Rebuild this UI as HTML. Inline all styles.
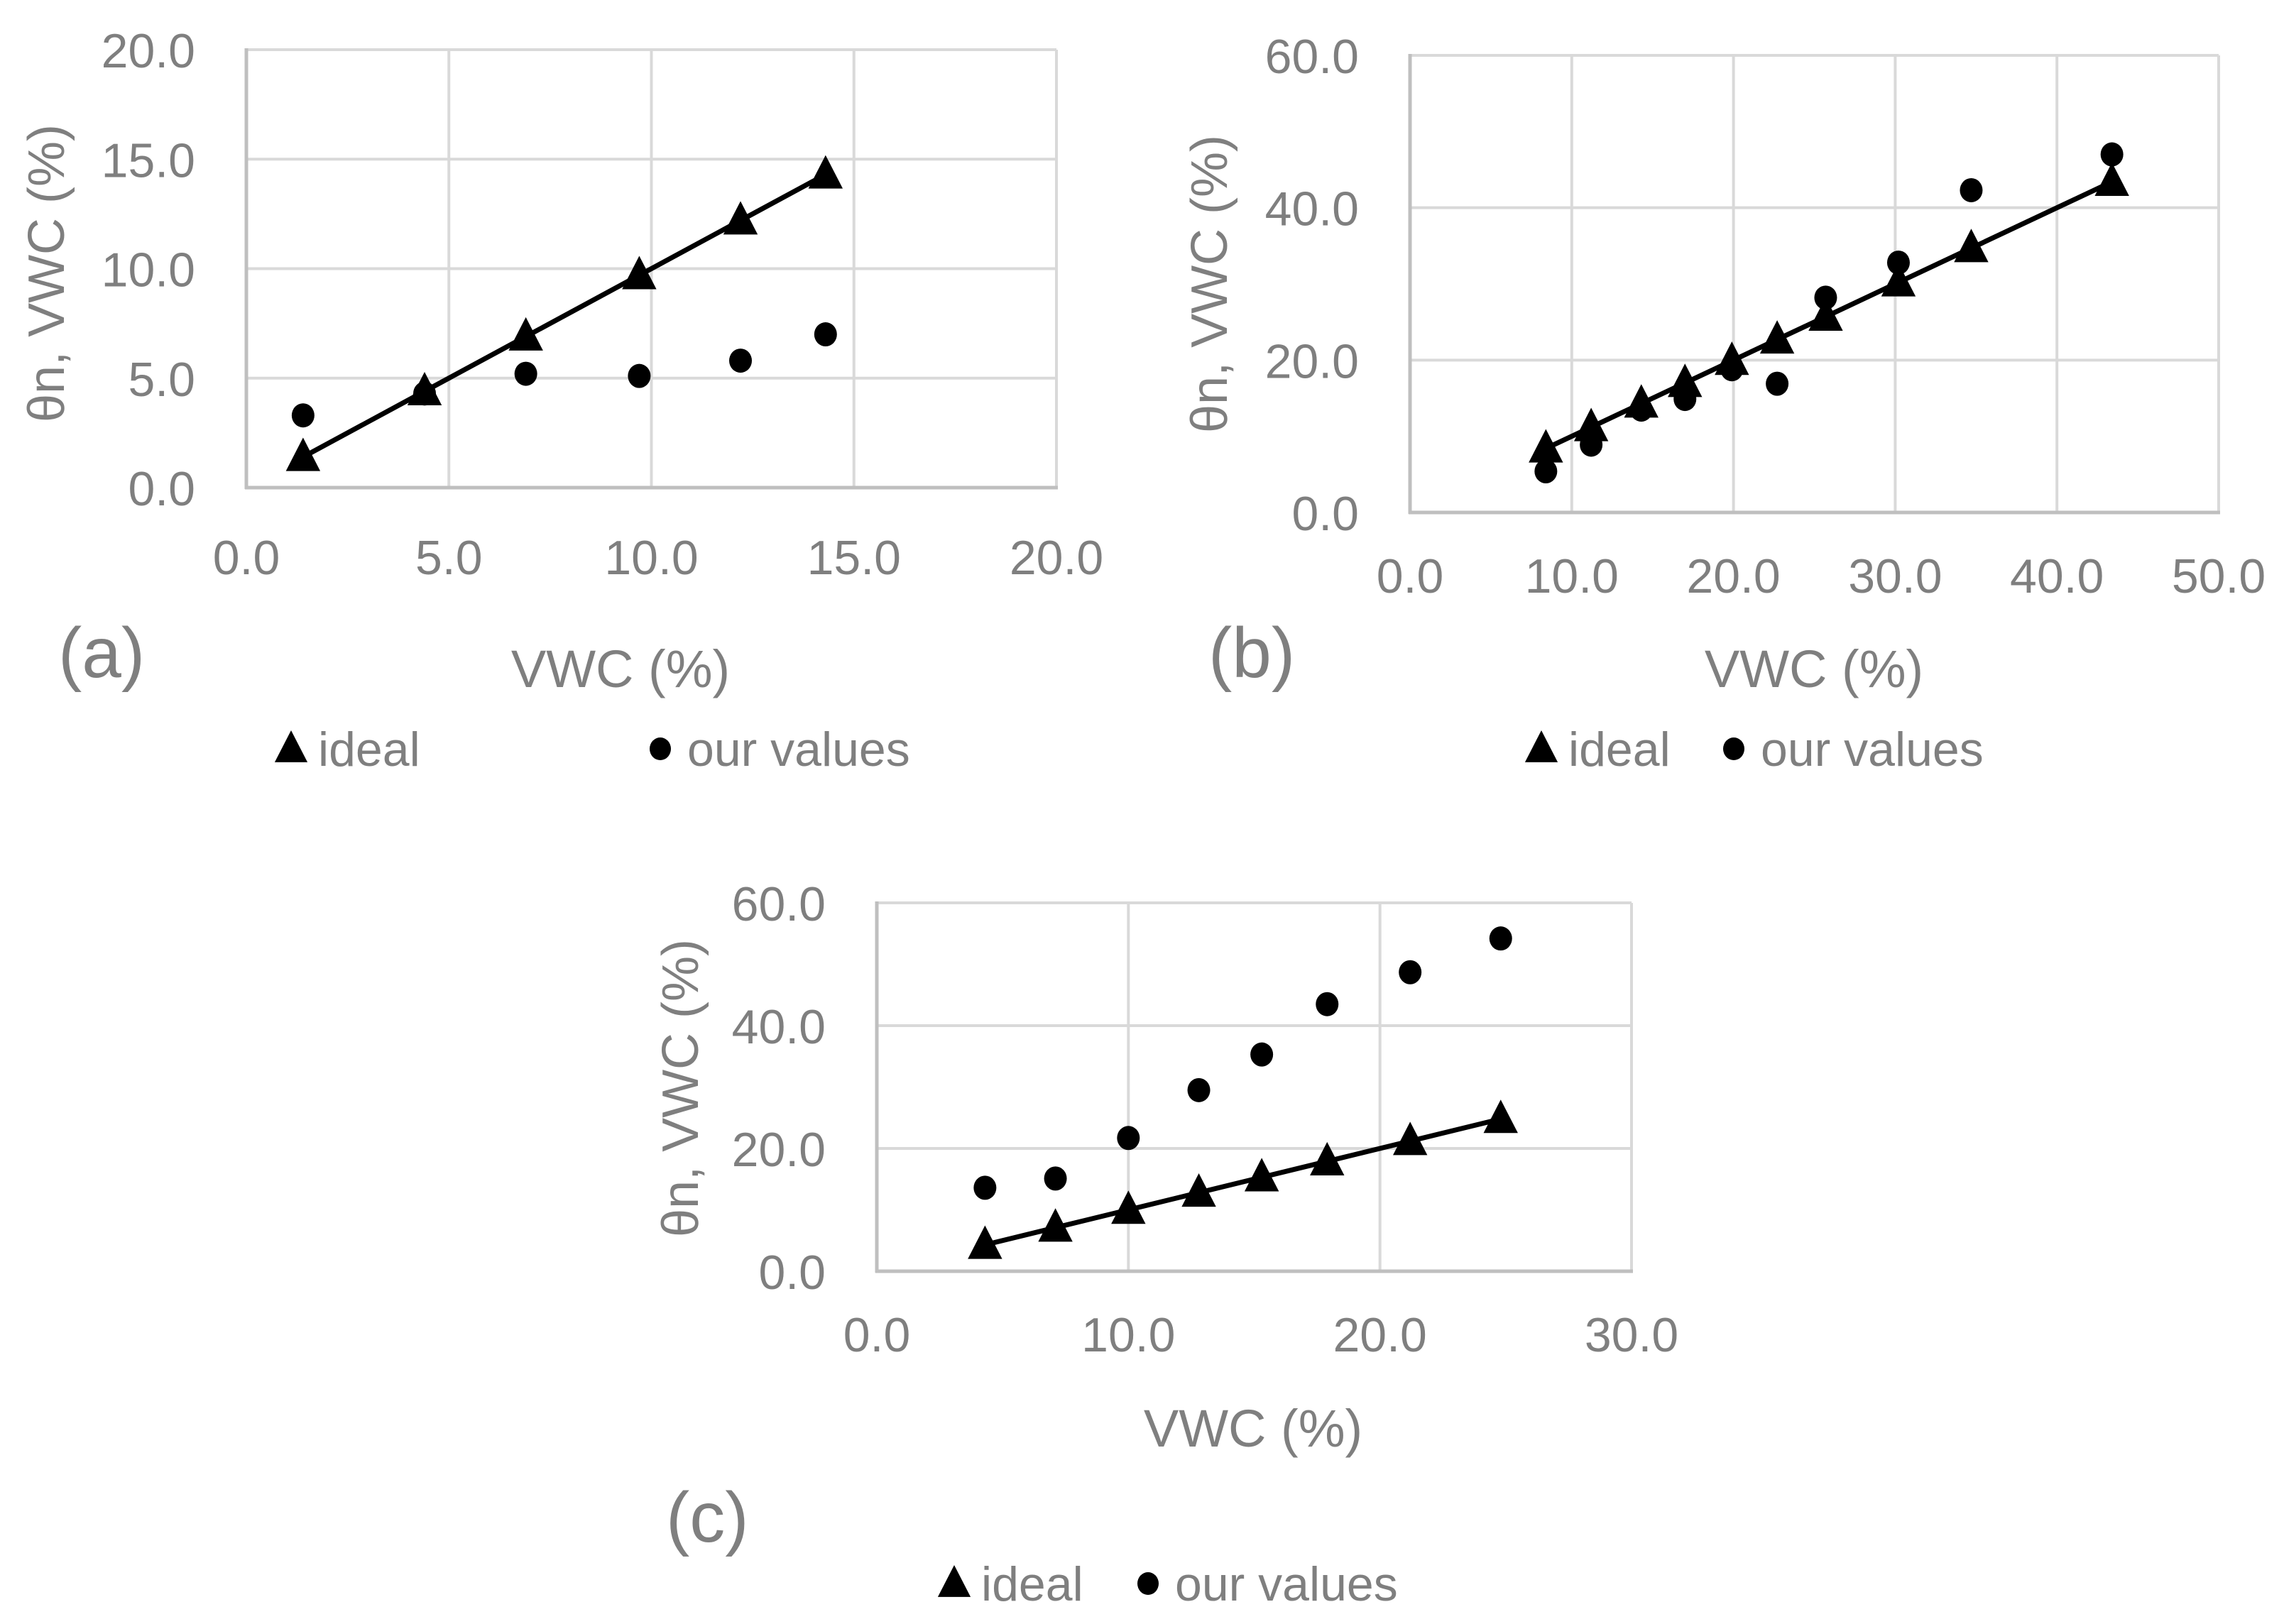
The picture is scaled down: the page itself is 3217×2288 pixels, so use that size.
<!DOCTYPE html>
<html><head><meta charset="utf-8">
<style>
html,body{margin:0;padding:0;background:#fff;}
svg{display:block;}
text{font-family:"Liberation Sans",sans-serif;fill:#7f7f7f;}
</style></head>
<body>
<svg id="fig" width="3217" height="2288" viewBox="0 0 3217 2288" xmlns="http://www.w3.org/2000/svg"></svg>
<script>
// ---- Chart (a) data ----
const aIdealX = [1.4, 4.4, 6.9, 9.7, 12.2, 14.3];
const aIdealY = [1.4, 4.4, 6.9, 9.7, 12.2, 14.3];
const aOurX = [1.4, 4.4, 6.9, 9.7, 12.2, 14.3];
const aOurY = [3.3, 4.3, 5.2, 5.1, 5.8, 7.0];
const aXTicks = ["0.0","5.0","10.0","15.0","20.0"];
const aYTicks = ["0.0","5.0","10.0","15.0","20.0"];
// ---- Chart (b) data ----
const bIdealX = [8.4, 11.2, 14.3, 17.0, 19.9, 22.7, 25.7, 30.2, 34.7, 43.4];
const bIdealY = [8.4, 11.2, 14.3, 17.0, 19.9, 22.7, 25.7, 30.2, 34.7, 43.4];
const bOurX = [8.4, 11.2, 14.3, 17.0, 19.9, 22.7, 25.7, 30.2, 34.7, 43.4];
const bOurY = [5.4, 8.9, 13.5, 14.9, 18.8, 16.9, 28.2, 32.8, 42.3, 47.0];
const bXTicks = ["0.0","10.0","20.0","30.0","40.0","50.0"];
const bYTicks = ["0.0","20.0","40.0","60.0"];
// ---- Chart (c) data ----
const cIdealX = [4.3, 7.1, 10.0, 12.8, 15.3, 17.9, 21.2, 24.8];
const cIdealY = [4.3, 7.1, 10.0, 12.8, 15.3, 17.9, 21.2, 24.8];
const cOurX = [4.3, 7.1, 10.0, 12.8, 15.3, 17.9, 21.2, 24.8];
const cOurY = [13.6, 15.1, 21.7, 29.5, 35.3, 43.5, 48.7, 54.2];
const cXTicks = ["0.0","10.0","20.0","30.0"];
const cYTicks = ["0.0","20.0","40.0","60.0"];

const NS = "http://www.w3.org/2000/svg";
const svg = document.getElementById("fig");
function mk(tag, attrs, parent, txt){
  const e = document.createElementNS(NS, tag);
  for (const k in attrs) e.setAttribute(k, attrs[k]);
  if (txt !== undefined) e.textContent = txt;
  (parent||svg).appendChild(e);
  return e;
}
function tri(g, cx, cy, s){
  return mk("polygon",{points:`${cx},${cy-s*0.62} ${cx-s*0.55},${cy+s*0.45} ${cx+s*0.55},${cy+s*0.45}`,fill:"#000"},g);
}

function chart(id, cfg){
  const g = mk("g",{});
  
  
  const {L,R,T,B,xmax,ymax} = cfg;
  const sx = v => L + (R-L)*v/xmax;
  const sy = v => B - (B-T)*v/ymax;
  const nx = cfg.xt.length-1, ny = cfg.yt.length-1;
  for (let i=1;i<=nx;i++){
    const x = sx(xmax*i/nx);
    const l = mk("line",{x1:x,y1:T,x2:x,y2:B,stroke:"#d9d9d9","stroke-width":4},g);
    
    
  }
  for (let i=1;i<=ny;i++){
    const y = sy(ymax*i/ny);
    const l = mk("line",{x1:L,y1:y,x2:R,y2:y,stroke:"#d9d9d9","stroke-width":4},g);
    
    
  }
  const ya = mk("line",{x1:L,y1:T-2,x2:L,y2:B+2,stroke:"#bfbfbf","stroke-width":5},g);
  
  
  const xa = mk("line",{x1:L-2,y1:B,x2:R+2,y2:B,stroke:"#bfbfbf","stroke-width":5},g);
  
  
  cfg.yt.forEach((t,i)=>{
    const e = mk("text",{x:L-72,y:sy(ymax*i/ny)+25,"text-anchor":"end","font-size":68},g,t);
    
    
  });
  cfg.xt.forEach((t,i)=>{
    const e = mk("text",{x:sx(xmax*i/nx),y:cfg.xly,"text-anchor":"middle","font-size":68},g,t);
    
    
  });
  const yt = mk("text",{x:0,y:0,"text-anchor":"middle","font-size":72,transform:`translate(${cfg.ytx},${cfg.yty}) rotate(-90)`},g,"θn, VWC (%)");
  
  
  const xt = mk("text",{x:cfg.xtx,y:cfg.xty,"text-anchor":"middle","font-size":74},g,"VWC (%)");
  
  
  const pl = mk("text",{x:cfg.plx,y:cfg.ply,"font-size":100},g,"("+id+")");
  
  
  const pts = cfg.ix.map((v,i)=>sx(v)+","+sy(cfg.iy[i])).join(" ");
  const pline = mk("polyline",{points:pts,fill:"none",stroke:"#000","stroke-width":7},g);
  
  
  cfg.ix.forEach((v,i)=>{
    const t = tri(g, sx(v), sy(cfg.iy[i]), 44);
    
    
  });
  cfg.ox.forEach((v,i)=>{
    const c = mk("ellipse",{cx:sx(v),cy:sy(cfg.oy[i]),rx:16,ry:17,fill:"#000"},g);
    
    
  });
  const lg = mk("g",{},g);
  
  
  const lt = tri(lg, cfg.lgTri, cfg.lgY, 42);
  
  
  const l1 = mk("text",{x:cfg.lgTri+38,y:cfg.lgY+24,"font-size":68},lg,"ideal");
  
  
  const lc = mk("ellipse",{cx:cfg.lgCir,cy:cfg.lgY,rx:15,ry:16,fill:"#000"},lg);
  
  
  const l2 = mk("text",{x:cfg.lgCir+38,y:cfg.lgY+24,"font-size":68},lg,"our values");
  
  
}

chart("a",{L:347,R:1488,T:70,B:687,xmax:20,ymax:20,xt:aXTicks,yt:aYTicks,xly:809,
  ix:aIdealX,iy:aIdealY,ox:aOurX,oy:aOurY,ytx:90,yty:385,xtx:874,xty:968,plx:82,ply:954,
  lgY:1055,lgTri:410,lgCir:930});
chart("b",{L:1986,R:3125,T:78,B:722,xmax:50,ymax:60,xt:bXTicks,yt:bYTicks,xly:835,
  ix:bIdealX,iy:bIdealY,ox:bOurX,oy:bOurY,ytx:1728,yty:400,xtx:2555,xty:968,plx:1702,ply:954,
  lgY:1055,lgTri:2171,lgCir:2442});
chart("c",{L:1235,R:2298,T:1272,B:1791,xmax:30,ymax:60,xt:cXTicks,yt:cYTicks,xly:1904,
  ix:cIdealX,iy:cIdealY,ox:cOurX,oy:cOurY,ytx:983,yty:1533,xtx:1765,xty:2038,plx:938,ply:2172,
  lgY:2231,lgTri:1344,lgCir:1617});
</script>
</body></html>
